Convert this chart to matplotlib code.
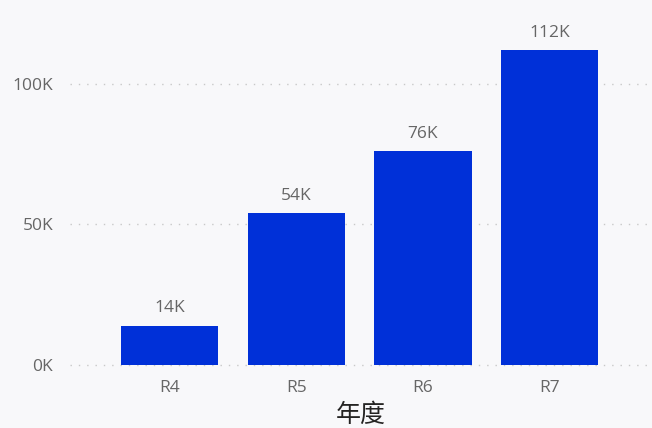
import matplotlib
matplotlib.use("Agg")
import matplotlib.pyplot as plt

categories = ["R4", "R5", "R6", "R7"]
values = [14000, 54000, 76000, 112000]
labels = ["14K", "54K", "76K", "112K"]
yticks = [0, 50000, 100000]
ytick_labels = ["0K", "50K", "100K"]

plt.rcParams['font.family'] = ['Open Sans', 'Noto Sans CJK SC', 'DejaVu Sans']

bg = "#f8f8fa"
fig = plt.figure(figsize=(6.52, 4.28), dpi=100, facecolor=bg)
ax = fig.add_axes([70/652, (428-365)/428, (652-70)/652, (365-10)/428], facecolor=bg)

x = range(len(categories))
ax.bar(x, values, width=0.767, color="#0030d8", zorder=3)
for xi, v, lab in zip(x, values, labels):
    ax.annotate(lab, (xi, v), xytext=(0, 7), textcoords="offset points",
                ha="center", va="bottom", fontsize=12.5, color="#666666")

ax.set_xlim(-0.79, 3.81)
ax.set_ylim(0, 355/2.81*1000)
ax.set_yticks(yticks)
ax.set_yticklabels(ytick_labels)
ax.set_xticks(list(x))
ax.set_xticklabels(categories)
ax.tick_params(axis='both', length=0, labelsize=12.5, colors="#666666")
ax.tick_params(axis='y', pad=12)
ax.tick_params(axis='x', pad=11)
ax.grid(axis='y', linestyle=(0, (1, 5)), color="#c8c8c8", linewidth=1, zorder=0)
for gl in ax.get_ygridlines():
    gl.set_clip_on(False)
for s in ax.spines.values():
    s.set_visible(False)
ax.set_xlabel("年度", fontsize=18, color="#252423", labelpad=4,
              family=['Noto Sans CJK SC', 'DejaVu Sans'])

fig.savefig("out.png", dpi=100, facecolor=bg)
